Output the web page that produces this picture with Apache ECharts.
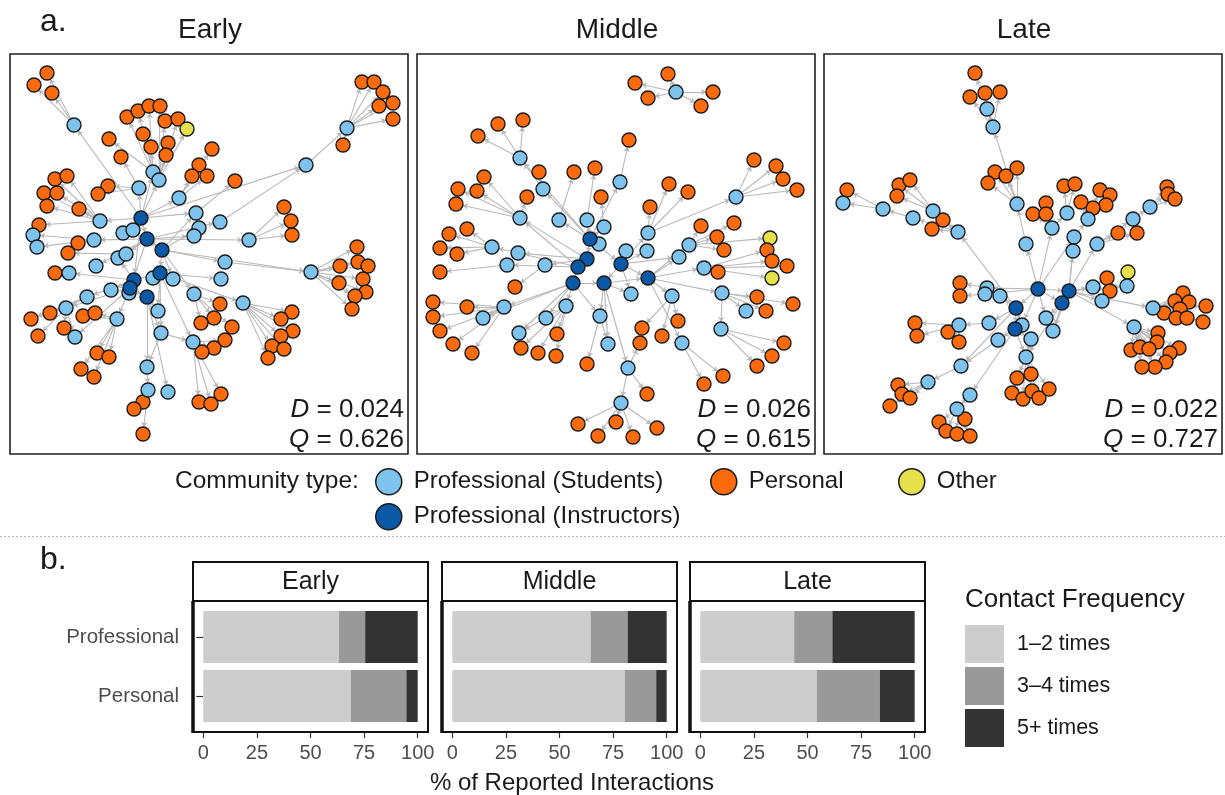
<!DOCTYPE html>
<html><head><meta charset="utf-8">
<script src="https://cdn.jsdelivr.net/npm/echarts@6/dist/echarts.min.js"></script>
<style>html,body{margin:0;padding:0;background:#fff}#c{width:1225px;height:795px}</style>
</head><body><div id="c"></div><script>
// ---------------- DATA ----------------
const periods = ['Early', 'Middle', 'Late'];
const densityD = ['0.024', '0.026', '0.022'];
const modularityQ = ['0.626', '0.615', '0.727'];
const communityTypes = ['Professional (Students)', 'Professional (Instructors)', 'Personal', 'Other'];

// Network layout coordinates (layout units inside each panel; x right, y down)
// hubs: [id, x, y, type]  type: S=student, I=instructor
const earlyHubs = [
  ['I1',131,164,'I'],['I2',137,185,'I'],['I3',152,196,'I'],['I4',150,219,'I'],['I5',124,226,'I'],['I6',120,234,'I'],['I7',137,243,'I'],
  ['S1',64,71,'S'],['S2',143,118,'S'],['S3',149,126,'S'],['S4',129,134,'S'],['S5',169,144,'S'],['S6',90,167,'S'],['S7',23,181,'S'],
  ['S8',27,193,'S'],['S9',113,179,'S'],['S10',84,186,'S'],['S11',123,176,'S'],['S12',186,159,'S'],['S13',189,174,'S'],['S14',184,182,'S'],
  ['S15',210,168,'S'],['S16',239,186,'S'],['S17',337,74,'S'],['S18',296,111,'S'],['S19',108,204,'S'],['S20',116,200,'S'],['S21',215,208,'S'],
  ['S22',301,218,'S'],['S23',86,212,'S'],['S24',59,219,'S'],['S25',143,224,'S'],['S26',163,225,'S'],['S27',211,225,'S'],['S28',119,239,'S'],
  ['S29',101,236,'S'],['S30',77,243,'S'],['S31',56,254,'S'],['S32',65,283,'S'],['S33',107,265,'S'],['S34',148,257,'S'],['S35',151,279,'S'],
  ['S36',137,313,'S'],['S37',138,336,'S'],['S38',158,338,'S'],['S39',184,240,'S'],['S40',183,288,'S'],['S41',233,249,'S']
];
// leaves: [hubId, [[x, y, type?], ...]]  type default P=personal, O=other
const earlyLeaves = [
  ['S1',[[37,19],[24,31],[42,39]]],
  ['S2',[[117,63],[128,57],[139,52],[133,80],[99,85],[141,93]]],
  ['S3',[[150,52],[155,67],[168,65],[177,75,'O'],[158,89],[156,101]]],
  ['S4',[[98,132],[88,140],[111,103]]],
  ['S5',[[202,95],[189,111],[182,122],[197,122]]],
  ['S6',[[45,125],[57,122],[34,139],[47,139],[37,152],[69,155],[29,171]]],
  ['S10',[[68,189]]],
  ['S12',[[225,127]]],
  ['S16',[[274,153],[281,167],[282,181]]],
  ['S17',[[352,28],[364,28],[373,38],[383,49],[369,52],[383,65],[333,91]]],
  ['S20',[[58,199]]],
  ['S22',[[347,193],[330,212],[348,208],[358,212],[353,225],[329,229],[356,238],[345,242],[342,255]]],
  ['S24',[[45,219]]],
  ['S30',[[40,259],[21,265]]],
  ['S31',[[28,282],[54,274]]],
  ['S33',[[73,262],[85,259],[87,299],[99,303],[71,315],[84,323]]],
  ['S37',[[133,348],[124,355],[133,380]]],
  ['S39',[[210,250],[204,264],[191,269],[222,273]]],
  ['S40',[[215,286],[204,294],[192,298],[189,348],[201,350],[211,340]]],
  ['S41',[[282,258],[271,265],[283,277],[271,282],[262,292],[274,295],[258,304]]]
];
const earlyHubLinks = [
  ['I1','I2'],['I2','I3'],['I3','I4'],['I5','I4'],['I6','I7'],['I1','I5'],['I2','I6'],
  ['I1','S1'],['I1','S2'],['I1','S3'],['I1','S4'],['I1','S5'],['I1','S6'],['I1','S9'],['I1','S11'],['I1','S12'],['I1','S18'],
  ['I2','S10'],['I2','S14'],['I2','S16'],['I2','S19'],['I2','S20'],['I2','S23'],['I2','S15'],
  ['I3','S13'],['I3','S21'],['I3','S26'],['I3','S39'],['I3','S12'],['I3','S22'],
  ['I4','S25'],['I4','S27'],['I4','S34'],['I4','S35'],['I4','S40'],['I4','S41'],
  ['I5','S24'],['I5','S29'],['I5','S30'],['I5','S19'],
  ['I6','S28'],['I6','S33'],['I6','S31'],['I6','S32'],
  ['I7','S34'],['I7','S36'],['I7','S38'],['I7','S35'],
  ['S10','S7'],['S10','S8'],['S18','S17'],['S21','S22'],['S35','S36'],['S36','S37'],['S31','S32'],['S30','S31'],['S35','S40'],['S15','S18']
];

const middleHubs = [
  ['I1',173,185,'I'],['I2',170,205,'I'],['I3',161,213,'I'],['I4',204,210,'I'],['I5',156,229,'I'],['I6',187,229,'I'],['I7',231,224,'I'],
  ['S0',259,38,'S'],['S1',103,104,'S'],['S2',203,128,'S'],['S3',126,135,'S'],['S4',103,164,'S'],['S5',142,166,'S'],['S6',170,166,'S'],
  ['S7',187,173,'S'],['S8',182,190,'S'],['S9',231,179,'S'],['S10',319,143,'S'],['S11',272,191,'S'],['S12',75,193,'S'],['S13',101,199,'S'],
  ['S14',209,197,'S'],['S15',230,197,'S'],['S16',262,203,'S'],['S17',90,211,'S'],['S18',128,211,'S'],['S19',287,214,'S'],['S21',214,240,'S'],
  ['S22',255,242,'S'],['S23',305,239,'S'],['S24',329,257,'S'],['S25',87,253,'S'],['S26',66,264,'S'],['S27',149,252,'S'],['S28',129,264,'S'],
  ['S29',102,279,'S'],['S30',183,262,'S'],['S31',191,290,'S'],['S32',304,275,'S'],['S33',265,289,'S'],['S34',211,314,'S'],['S35',204,349,'S']
];
const middleLeaves = [
  ['S0',[[218,29],[251,20],[231,44],[296,38],[284,52]]],
  ['S1',[[61,82],[81,70],[106,66]]],
  ['S2',[[212,86]]],
  ['S3',[[122,118]]],
  ['S4',[[67,123],[41,135],[60,137],[39,150],[110,143]]],
  ['S5',[[157,118]]],
  ['S6',[[178,114]]],
  ['S7',[[184,143]]],
  ['S9',[[252,130],[271,138],[233,153]]],
  ['S10',[[337,106],[359,112],[366,125],[380,136]]],
  ['S11',[[284,172],[317,169],[300,183],[307,196],[353,184,'O']]],
  ['S12',[[32,180],[50,175],[23,194],[40,200]]],
  ['S17',[[23,218]]],
  ['S18',[[98,233]]],
  ['S19',[[350,196],[355,207],[370,212],[301,218],[355,224,'O']]],
  ['S22',[[261,267],[225,274],[245,282]]],
  ['S23',[[340,243],[376,250],[349,257]]],
  ['S25',[[16,248],[50,253],[16,263],[23,277],[36,290],[55,299]]],
  ['S27',[[104,294],[121,299],[139,302],[140,280]]],
  ['S30',[[170,310]]],
  ['S32',[[367,289],[355,302],[340,312]]],
  ['S33',[[306,322],[287,330]]],
  ['S34',[[230,340],[223,289]]],
  ['S35',[[161,370],[199,368],[240,374],[181,382],[216,383]]]
];
const middleHubLinks = [
  ['I1','I2'],['I2','I3'],['I3','I5'],['I1','I4'],['I4','I6'],['I6','I7'],['I5','I6'],['I4','I7'],
  ['I1','S5'],['I1','S6'],['I1','S7'],['I1','S8'],['I1','S2'],['I1','S3'],['I1','S1'],
  ['I2','S4'],['I2','S13'],['I2','S18'],
  ['I3','S12'],['I3','S17'],['I3','S27'],['I3','S4'],
  ['I4','S14'],['I4','S15'],['I4','S9'],['I4','S16'],['I4','S21'],
  ['I5','S28'],['I5','S29'],['I5','S25'],['I5','S30'],['I5','S26'],
  ['I6','S31'],['I6','S34'],['I6','S21'],['I6','S30'],
  ['I7','S11'],['I7','S19'],['I7','S22'],['I7','S23'],['I7','S33'],['I7','S16'],
  ['S9','S10'],['S23','S24'],['S23','S32'],['S34','S35'],['S25','S26'],['S27','S29'],['S30','S31'],['S3','S1']
];

const lateHubs = [
  ['I1',214,235,'I'],['I2',245,237,'I'],['I3',238,249,'I'],['I4',192,254,'I'],['I5',191,275,'I'],
  ['S1',163,55,'S'],['S2',169,73,'S'],['S3',193,150,'S'],['S4',202,190,'S'],['S5',19,149,'S'],['S6',59,155,'S'],['S7',109,157,'S'],
  ['S8',89,164,'S'],['S9',134,178,'S'],['S10',243,159,'S'],['S11',228,174,'S'],['S12',264,165,'S'],['S13',250,183,'S'],['S14',273,190,'S'],
  ['S15',309,165,'S'],['S16',326,153,'S'],['S17',249,197,'S'],['S18',269,233,'S'],['S19',303,232,'S'],['S20',278,247,'S'],['S21',329,254,'S'],
  ['S22',310,273,'S'],['S23',163,234,'S'],['S24',161,240,'S'],['S25',176,242,'S'],['S26',135,271,'S'],['S27',165,269,'S'],['S28',174,286,'S'],
  ['S29',137,312,'S'],['S30',104,328,'S'],['S31',146,341,'S'],['S32',133,355,'S'],['S33',198,271,'S'],['S34',207,285,'S'],['S35',202,303,'S'],
  ['S36',222,264,'S'],['S37',229,277,'S']
];
const lateLeaves = [
  ['S1',[[151,19]]],
  ['S2',[[146,43],[161,39],[176,38]]],
  ['S3',[[171,118],[182,122],[193,114],[164,129]]],
  ['S6',[[23,136]]],
  ['S7',[[75,131],[86,126],[73,142]]],
  ['S9',[[119,166],[108,175]]],
  ['S10',[[240,132],[251,130]]],
  ['S11',[[209,160],[222,149],[222,160]]],
  ['S12',[[276,136],[286,141],[282,151],[269,154],[257,148]]],
  ['S14',[[294,179],[313,179]]],
  ['S16',[[343,133],[344,140],[351,145]]],
  ['S18',[[283,224],[286,237]]],
  ['S19',[[304,218,'O']]],
  ['S21',[[359,239],[351,247],[365,248],[340,259],[356,255],[382,252],[352,264],[363,264],[379,268]]],
  ['S22',[[334,279],[333,288],[307,296],[316,293],[325,295],[355,294],[346,299],[342,308],[331,313],[318,313]]],
  ['S23',[[136,229]]],
  ['S24',[[136,242]]],
  ['S26',[[91,269],[93,282],[124,278],[135,288]]],
  ['S30',[[74,331],[78,340],[86,344],[66,352]]],
  ['S32',[[141,365],[115,368],[122,377],[133,380],[146,382]]],
  ['S35',[[193,324],[207,320],[188,339],[199,345],[208,337],[215,344],[225,335]]]
];
const lateHubLinks = [
  ['I1','I2'],['I1','I4'],['I4','I5'],['I2','I3'],['I1','I3'],
  ['I1','S4'],['I1','S11'],['I1','S13'],['I1','S23'],['I1','S24'],['I1','S36'],['I1','S33'],
  ['I2','S14'],['I2','S17'],['I2','S18'],['I2','S19'],['I2','S20'],['I2','S21'],['I2','S22'],['I2','S13'],['I2','S37'],
  ['I3','S36'],['I3','S37'],['I3','S35'],
  ['I4','S9'],['I4','S27'],['I4','S25'],['I4','S33'],['I4','S29'],
  ['I5','S28'],['I5','S31'],['I5','S34'],['I5','S35'],
  ['S4','S3'],['S3','S2'],['S2','S1'],['S9','S7'],['S9','S8'],['S8','S6'],['S6','S5'],['S11','S10'],['S13','S12'],
  ['S14','S15'],['S15','S16'],['S27','S26'],['S28','S29'],['S29','S30'],['S31','S32'],['S34','S35']
];

// Bar chart data (% of reported interactions)
const contactCategories = ['Professional', 'Personal'];
const frequencyLevels = ['1\u20132 times', '3\u20134 times', '5+ times'];
const earlyShares  = [[63.3, 68.8], [12.2, 25.9], [24.5, 5.3]];
const middleShares = [[64.5, 80.4], [17.3, 14.7], [18.2, 4.9]];
const lateShares   = [[43.8, 54.3], [17.8, 29.5], [38.4, 16.2]];

// ---------------- STYLE / LAYOUT ----------------
const FONT = '"Liberation Sans", Arial, Helvetica, sans-serif';
const TXT = '#1a1a1a';
const typeColor = { S: '#7dc3ee', I: '#0b58a6', P: '#fb6a0c', O: '#e6e04a' };
const typeCat = { S: 0, I: 1, P: 2, O: 3 };
const typeZ = { P: 0, O: 0, S: 1, I: 2 };
const barColors = ['#cdcdcd', '#999999', '#333333'];

const netPanels = [
  { left: 10, top: 54, width: 398, height: 400 },
  { left: 417, top: 54, width: 398, height: 400 },
  { left: 824, top: 54, width: 398, height: 400 }
];
const facetX = [193, 442, 690];
const facetW = 235;
const facetInset = 10.3;
const stripTop = 562, panelTop = 601, panelBottom = 732;

function buildNetwork(hubs, leaves, hubLinks) {
  const nodes = [], links = [];
  hubs.forEach(h => nodes.push({ name: h[0], value: [h[1], h[2]], category: typeCat[h[3]], _t: h[3] }));
  let k = 0;
  leaves.forEach(g => {
    g[1].forEach(p => {
      const id = 'L' + (k++);
      const t = p[2] || 'P';
      nodes.push({ name: id, value: [p[0], p[1]], category: typeCat[t], _t: t });
      links.push({ source: g[0], target: id });
    });
  });
  hubLinks.forEach(e => links.push({ source: e[0], target: e[1] }));
  nodes.sort((a, b) => typeZ[a._t] - typeZ[b._t]);
  nodes.forEach(n => delete n._t);
  return { nodes, links };
}

const networks = [
  buildNetwork(earlyHubs, earlyLeaves, earlyHubLinks),
  buildNetwork(middleHubs, middleLeaves, middleHubLinks),
  buildNetwork(lateHubs, lateLeaves, lateHubLinks)
];
const shares = [earlyShares, middleShares, lateShares];

const grid = [], xAxis = [], yAxis = [], series = [], graphic = [];

netPanels.forEach((p, i) => {
  grid.push({ left: p.left, top: p.top, width: p.width, height: p.height, show: true,
    borderColor: '#222', borderWidth: 1.6, backgroundColor: '#fff' });
  xAxis.push({ type: 'value', gridIndex: i, min: 0, max: p.width, show: false });
  yAxis.push({ type: 'value', gridIndex: i, min: 0, max: p.height, inverse: true, show: false });
  series.push({
    type: 'graph', coordinateSystem: 'cartesian2d', xAxisIndex: i, yAxisIndex: i,
    layout: 'none', symbol: 'circle', symbolSize: 14, silent: true,
    categories: communityTypes.map((n, c) => ({ name: n, itemStyle: { color: typeColor[['S','I','P','O'][c]] } })),
    itemStyle: { borderColor: '#1a1a1a', borderWidth: 1.4 },
    lineStyle: { color: '#b8b8b8', width: 1.1, opacity: 1, curveness: 0 },
    edgeSymbol: ['none', 'arrow'], edgeSymbolSize: [0, 5],
    label: { show: false }, emphasis: { disabled: true },
    data: networks[i].nodes, links: networks[i].links
  });
  const cx = p.left + p.width / 2;
  graphic.push({ type: 'text', x: cx + 1, y: 30, style: { text: periods[i], font: '28px ' + FONT, fill: TXT, align: 'center', verticalAlign: 'middle' } });
  const rx = p.left + p.width - 4;
  graphic.push({ type: 'text', x: rx, y: 410, style: { text: '{i|D} = ' + densityD[i], align: 'right', verticalAlign: 'middle', font: '26px ' + FONT, fill: TXT,
    rich: { i: { fontStyle: 'italic', fontSize: 26, fontFamily: FONT, fill: TXT } } } });
  graphic.push({ type: 'text', x: rx, y: 440, style: { text: '{i|Q} = ' + modularityQ[i], align: 'right', verticalAlign: 'middle', font: '26px ' + FONT, fill: TXT,
    rich: { i: { fontStyle: 'italic', fontSize: 26, fontFamily: FONT, fill: TXT } } } });
});

facetX.forEach((fx, f) => {
  const gi = 3 + f;
  grid.push({ left: fx + facetInset, top: 607.5, width: facetW - 2 * facetInset, height: 118 });
  xAxis.push({ type: 'value', gridIndex: gi, min: 0, max: 100, interval: 25, offset: 6.5,
    axisLine: { show: false }, splitLine: { show: false },
    axisTick: { show: true, length: 6, lineStyle: { color: '#333', width: 1.2 } },
    axisLabel: { fontSize: 20, color: '#4d4d4d', margin: 11, fontFamily: FONT } });
  yAxis.push({ type: 'category', gridIndex: gi, data: contactCategories, inverse: true, offset: facetInset,
    axisLine: { show: false }, splitLine: { show: false },
    axisTick: { show: f === 0, alignWithLabel: true, length: 7, lineStyle: { color: '#333', width: 1.2 } },
    axisLabel: { show: f === 0, fontSize: 20.5, color: '#4d4d4d', margin: 14, fontFamily: FONT } });
  frequencyLevels.forEach((lv, k) => {
    series.push({ type: 'bar', name: lv, xAxisIndex: gi, yAxisIndex: gi, stack: 'facet' + f,
      data: shares[f][k], barWidth: 52, silent: true, itemStyle: { color: barColors[k] } });
  });
  // strip + panel frame
  graphic.push({ type: 'rect', shape: { x: fx, y: stripTop, width: facetW, height: panelTop - stripTop },
    style: { fill: '#fff', stroke: '#111', lineWidth: 2 }, z: 10 });
  graphic.push({ type: 'text', x: fx + facetW / 2, y: (stripTop + panelTop) / 2 + 1, z: 11,
    style: { text: periods[f], font: '25px ' + FONT, fill: TXT, align: 'center', verticalAlign: 'middle' } });
  graphic.push({ type: 'rect', shape: { x: fx, y: panelTop, width: facetW, height: panelBottom - panelTop },
    style: { fill: 'none', stroke: '#111', lineWidth: 2 }, z: 10 });
  graphic.push({ type: 'line', shape: { x1: fx, y1: panelTop, x2: fx, y2: panelBottom + 1 },
    style: { stroke: '#111', lineWidth: 3.5 }, z: 10 });
});

// labels and decorations
graphic.push({ type: 'text', x: 40, y: 22, style: { text: 'a.', font: '32px ' + FONT, fill: TXT, verticalAlign: 'middle' } });
graphic.push({ type: 'text', x: 40, y: 560, style: { text: 'b.', font: '32px ' + FONT, fill: TXT, verticalAlign: 'middle' } });
graphic.push({ type: 'text', x: 175, y: 481, style: { text: 'Community type:', font: '24.5px ' + FONT, fill: TXT, verticalAlign: 'middle' } });
graphic.push({ type: 'line', shape: { x1: 0, y1: 536.5, x2: 1225, y2: 536.5 }, style: { stroke: '#b5b5b5', lineWidth: 1.2, lineDash: [2, 2] } });
graphic.push({ type: 'text', x: 572, y: 783, style: { text: '% of Reported Interactions', font: '24px ' + FONT, fill: TXT, align: 'center', verticalAlign: 'middle' } });
graphic.push({ type: 'text', x: 965, y: 600, style: { text: 'Contact Frequency', font: '26px ' + FONT, fill: TXT, verticalAlign: 'middle' } });

function commLegend(name, left, top) {
  return { data: [name], left, top, padding: 0, itemWidth: 40, itemHeight: 26, icon: 'circle', selectedMode: false,
    itemStyle: { borderColor: '#1a1a1a', borderWidth: 1.5 },
    textStyle: { fontSize: 24, color: TXT, fontFamily: FONT } };
}
const legend = [
  commLegend(communityTypes[0], 375, 468),
  commLegend(communityTypes[2], 710, 468),
  commLegend(communityTypes[3], 898, 468),
  commLegend(communityTypes[1], 375, 503),
  { data: frequencyLevels, orient: 'vertical', left: 965, top: 625, padding: 0, itemWidth: 39, itemHeight: 38, itemGap: 4,
    icon: 'rect', selectedMode: false, itemStyle: { borderWidth: 0 },
    textStyle: { fontSize: 21.5, color: TXT, fontFamily: FONT, padding: [0, 0, 0, 8] } }
];

const chart = echarts.init(document.getElementById('c'), null, { renderer: 'canvas' });
chart.setOption({
  animation: false, backgroundColor: '#fff',
  textStyle: { fontFamily: FONT },
  grid, xAxis, yAxis, series, legend, graphic
});
</script></body></html>
